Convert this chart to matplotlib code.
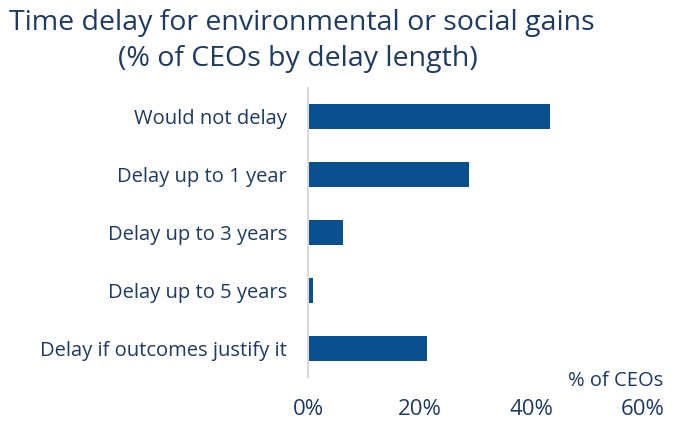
import matplotlib.pyplot as plt

# CEO survey: willingness to delay returns for environmental / social gains
categories = ["Would not delay", "Delay up to 1 year", "Delay up to 3 years",
              "Delay up to 5 years", "Delay if outcomes justify it"]
shares = [43.4, 28.9, 6.2, 0.9, 21.4]
xticks = [0, 20, 40, 60]
xtick_labels = ["0%", "20%", "40%", "60%"]

BAR = "#0b4f8f"
TEXT = "#1f3a60"

plt.rcParams['font.family'] = ['Open Sans', 'DejaVu Sans']

fig = plt.figure(figsize=(6.81, 4.21), dpi=100)
ax = fig.add_axes([0.4523, 0.1045, 0.4919, 0.6865])

ypos = list(range(len(categories)))
ax.barh(ypos, shares, height=0.43, color=BAR)
ax.set_ylim(len(categories) - 0.5, -0.5)
ax.set_xlim(0, 60)

ax.set_yticks(ypos)
ax.set_yticklabels(categories, fontsize=14.5, color=TEXT)
ax.set_xticks(xticks)
ax.set_xticklabels(xtick_labels, fontsize=16, color=TEXT)
ax.tick_params(axis='y', length=0, pad=15)
ax.tick_params(axis='x', length=0, pad=16)

for side in ['top', 'right', 'bottom']:
    ax.spines[side].set_visible(False)
ax.spines['left'].set_color('#d9d9d9')
ax.spines['left'].set_linewidth(1.5)

fig.text(663 / 681, 1 - 381 / 421, "% of CEOs", ha='right', va='center',
         fontsize=14.5, color=TEXT)

fig.text(302 / 681, 1 - 23 / 421, "Time delay for environmental or social gains",
         ha='center', va='center', fontsize=20.5, color=TEXT)
fig.text(298 / 681, 1 - 59 / 421, "(% of CEOs by delay length)",
         ha='center', va='center', fontsize=20.5, color=TEXT)

fig.savefig("out.png", dpi=100)
